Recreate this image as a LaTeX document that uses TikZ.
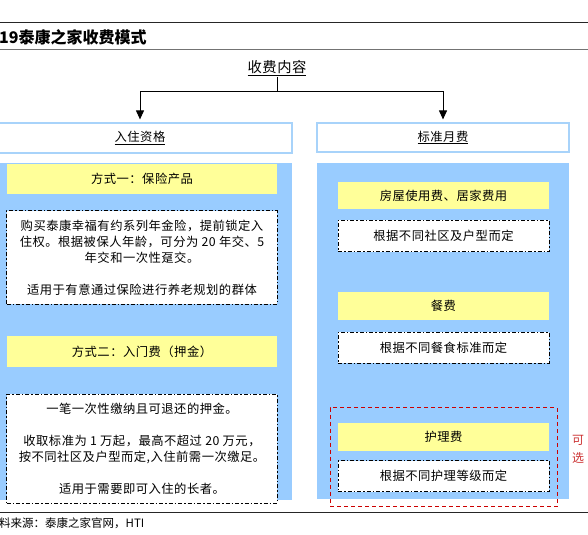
\documentclass[tikz,border=0pt]{standalone}
\usepackage{fontspec}
\setmainfont{Liberation Sans}
\newfontfamily\cjk{Noto Sans CJK SC}
\newfontfamily\cjkw{Noto Sans CJK SC}[LetterSpace=4]
\usetikzlibrary{arrows.meta}
\definecolor{panelblue}{HTML}{99CCFF}
\definecolor{hdrblue}{HTML}{A8D3FA}
\definecolor{yel}{HTML}{FFFF99}
\definecolor{redd}{HTML}{CC0000}
\definecolor{redtext}{HTML}{CC3333}
\tikzset{
  txt/.style={font=\cjkw\fontsize{12.3bp}{16bp}\selectfont},
  panel/.style={draw=none, fill=panelblue, inner sep=0pt},
  hdr/.style={txt, draw=hdrblue, line width=1.2bp, fill=white, inner sep=0pt},
  yelbox/.style={txt, draw=none, fill=yel, inner sep=0pt},
  dbox/.style={txt, draw=black, fill=white, line width=1bp, inner sep=0pt, align=center,
    dash pattern=on 4bp off 2bp on 1.5bp off 2bp},
  optbox/.style={draw=redd, line width=1bp, dash pattern=on 4bp off 3bp, inner sep=0pt},
  arr/.style={-{Triangle[width=8bp,length=9bp]}, line width=1bp, shorten >=3bp},
  rule/.style={line width=0.8bp}
}
\begin{document}
\begin{tikzpicture}[x=1bp,y=-1bp]
\useasboundingbox (0,0) rectangle (588,535);
% rules
\draw[rule, black!85] (0,22) -- (588,22);
\draw[line width=1.3bp, black!55] (0,49.5) -- (588,49.5);
\draw[rule, black!85] (0,512) -- (588,512);
% title and source
\node[anchor=west, inner sep=0pt, font=\cjk\bfseries\fontsize{16bp}{18bp}\selectfont] (title) at (-1,37) {19泰康之家收费模式};
\node[anchor=west, inner sep=0pt, font=\cjk\fontsize{11.5bp}{14bp}\selectfont] (src) at (-1,523) {料来源：泰康之家官网，HTI};
% top
\node[inner sep=1bp, font=\cjkw\fontsize{14.3bp}{16bp}\selectfont] (top) at (277,68) {\underline{收费内容}};
\node[hdr, minimum width=304bp, minimum height=30bp] (h1) at (140,138) {\underline{入住资格}};
\node[hdr, minimum width=252bp, minimum height=29bp] (h2) at (443,137.5) {\underline{标准月费}};
\coordinate (jn) at (277,91.5);
\draw[line width=1bp] (top.south) -- (jn);
\draw[arr] (jn) -| (h1.north);
\draw[arr] (jn) -| (h2.north);
% left panel
\node[panel, minimum width=300bp, minimum height=337bp] (lp) at (142,331.5) {};
\node[yelbox, minimum width=270bp, minimum height=30bp] (y1) at (142,179) {方式一：保险产品};
\node[dbox, minimum width=270bp, minimum height=93bp] (d1) at (142,257.5)
  {购买泰康幸福有约系列年金险，提前锁定入\\住权。根据被保人年龄，可分为 20 年交、5\\年交和一次性趸交。\\[16bp]适用于有意通过保险进行养老规划的群体};
\node[yelbox, minimum width=270bp, minimum height=31bp] (y2) at (142,351.5) {方式二：入门费（押金）};
\node[dbox, minimum width=270bp, minimum height=109bp] (d2) at (142,448.5)
  {一笔一次性缴纳且可退还的押金。\\[16bp]收取标准为 1 万起，最高不超过 20 万元，\\按不同社区及户型而定,入住前需一次缴足。\\[16bp]适用于需要即可入住的长者。};
% right panel
\node[panel, minimum width=252bp, minimum height=336bp] (rp) at (443,331) {};
\node[yelbox, minimum width=211bp, minimum height=27bp] (r1) at (443.5,195.5) {房屋使用费、居家费用};
\node[dbox, minimum width=211bp, minimum height=31bp] (rd1) at (443.5,236) {根据不同社区及户型而定};
\node[yelbox, minimum width=211bp, minimum height=28bp] (r2) at (443.5,306) {餐费};
\node[dbox, minimum width=211bp, minimum height=31bp] (rd2) at (443.5,347.5) {根据不同餐食标准而定};
\node[optbox, minimum width=227bp, minimum height=99bp] (opt) at (443.5,457) {};
\node[yelbox, minimum width=211bp, minimum height=28bp] (r3) at (443.5,437) {护理费};
\node[dbox, minimum width=211bp, minimum height=31bp] (rd3) at (443.5,476) {根据不同护理等级而定};
\node[text=redtext, align=center, inner sep=0pt, font=\cjk\fontsize{12bp}{18bp}\selectfont] (kx) at (578,449) {可\\选};
\end{tikzpicture}
\end{document}
